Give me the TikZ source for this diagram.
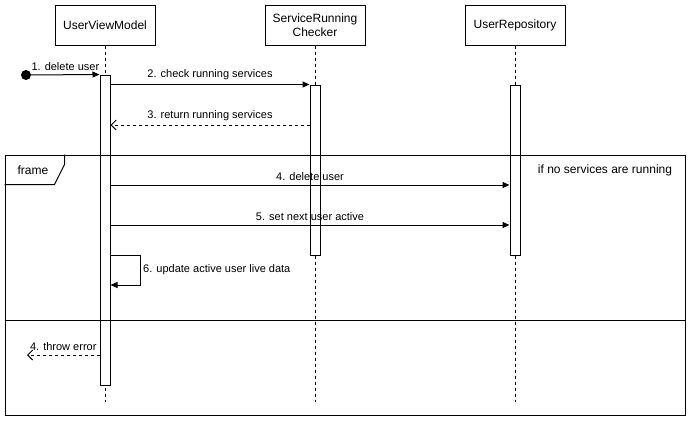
\documentclass[tikz,border=0pt]{standalone}
\usepackage{fontspec}
\setmainfont{Liberation Sans}
\usetikzlibrary{arrows.meta}
\begin{document}
\begin{tikzpicture}[x=1pt,y=-1pt,
  actor/.style={draw, line width=1pt, minimum width=100pt, minimum height=40pt, font=\fontsize{12}{14.4}\selectfont, align=center, inner sep=0pt},
  act/.style={draw, fill=white, line width=1pt, minimum width=10pt, inner sep=0pt},
  life/.style={line width=1pt, dash pattern=on 3pt off 3pt},
  msg/.style={line width=1pt, -{Triangle[length=7pt,width=6pt]}},
  ret/.style={line width=1pt, dash pattern=on 3pt off 3pt, -{Straight Barb[length=5pt,width=10pt]}},
  lbl/.style={font=\fontsize{11}{13}\selectfont, inner sep=1pt, above=3pt},
  ftxt/.style={font=\fontsize{12}{14.4}\selectfont, inner sep=0pt}]
\useasboundingbox (0,0) rectangle (691,421);

% actors
\node[actor] (uvm) at (105,25) {UserViewModel};
\node[actor] (src) at (315,25) {ServiceRunning\\Checker};
\node[actor] (ur)  at (515,25) {UserRepository};

\coordinate (uvmend) at (105,402);
\coordinate (srcend) at (315,402);
\coordinate (urend)  at (515,402);
\draw[life] (uvm.south) -- (uvmend);
\draw[life] (src.south) -- (srcend);
\draw[life] (ur.south) -- (urend);

% activations
\node[act, minimum height=310pt] (a1) at (105,230) {};
\node[act, minimum height=170pt] (a2) at (315,170) {};
\node[act, minimum height=170pt] (a3) at (515,170) {};

% start
\node[circle, fill=black, minimum size=10pt, inner sep=0pt] (start) at (26,75) {};
\draw[msg] (start) -- node[lbl] {1. delete user} (a1.north west);

\draw[msg] (a1.east |- a2.north) -- node[lbl] {2. check running services} (a2.north west);
\draw[ret] (a2.west |- 0,125) -- node[lbl] {3. return running services} (a1.east |- 0,125);

% frame
\node[draw, line width=1pt, minimum width=680pt, minimum height=260pt, inner sep=0pt] (frame) at (345,285) {};
\draw[line width=1pt, line join=miter] (frame.north west) ++(60,0) -- ++(0,10) -- ++(-10,20) -- ++(-50,0);
\node[ftxt] (ftab) at (33,170) {frame};
\node[ftxt] (cond) at (605,170) {if no services are running};
\draw[line width=1pt] (frame.west |- 0,320) -- (frame.east |- 0,320);

\draw[msg] (a1.east |- 0,185) -- node[lbl] {4. delete user} (a3.west |- 0,185);
\draw[msg] (a1.east |- 0,225) -- node[lbl] {5. set next user active} (a3.west |- 0,225);

\coordinate (selfa) at (140,255);
\coordinate (selfb) at (140,285);
\draw[msg] (a1.east |- selfa) -- (selfa) -- (selfb) -- (a1.east |- selfb);
\node[font=\fontsize{11}{13}\selectfont, anchor=west, inner sep=3pt] (l6) at (140,270) {6. update active user live data};

\coordinate (errend) at (27,355);
\draw[ret] (a1.west |- errend) -- node[lbl] {4. throw error} (errend);
\end{tikzpicture}
\end{document}
